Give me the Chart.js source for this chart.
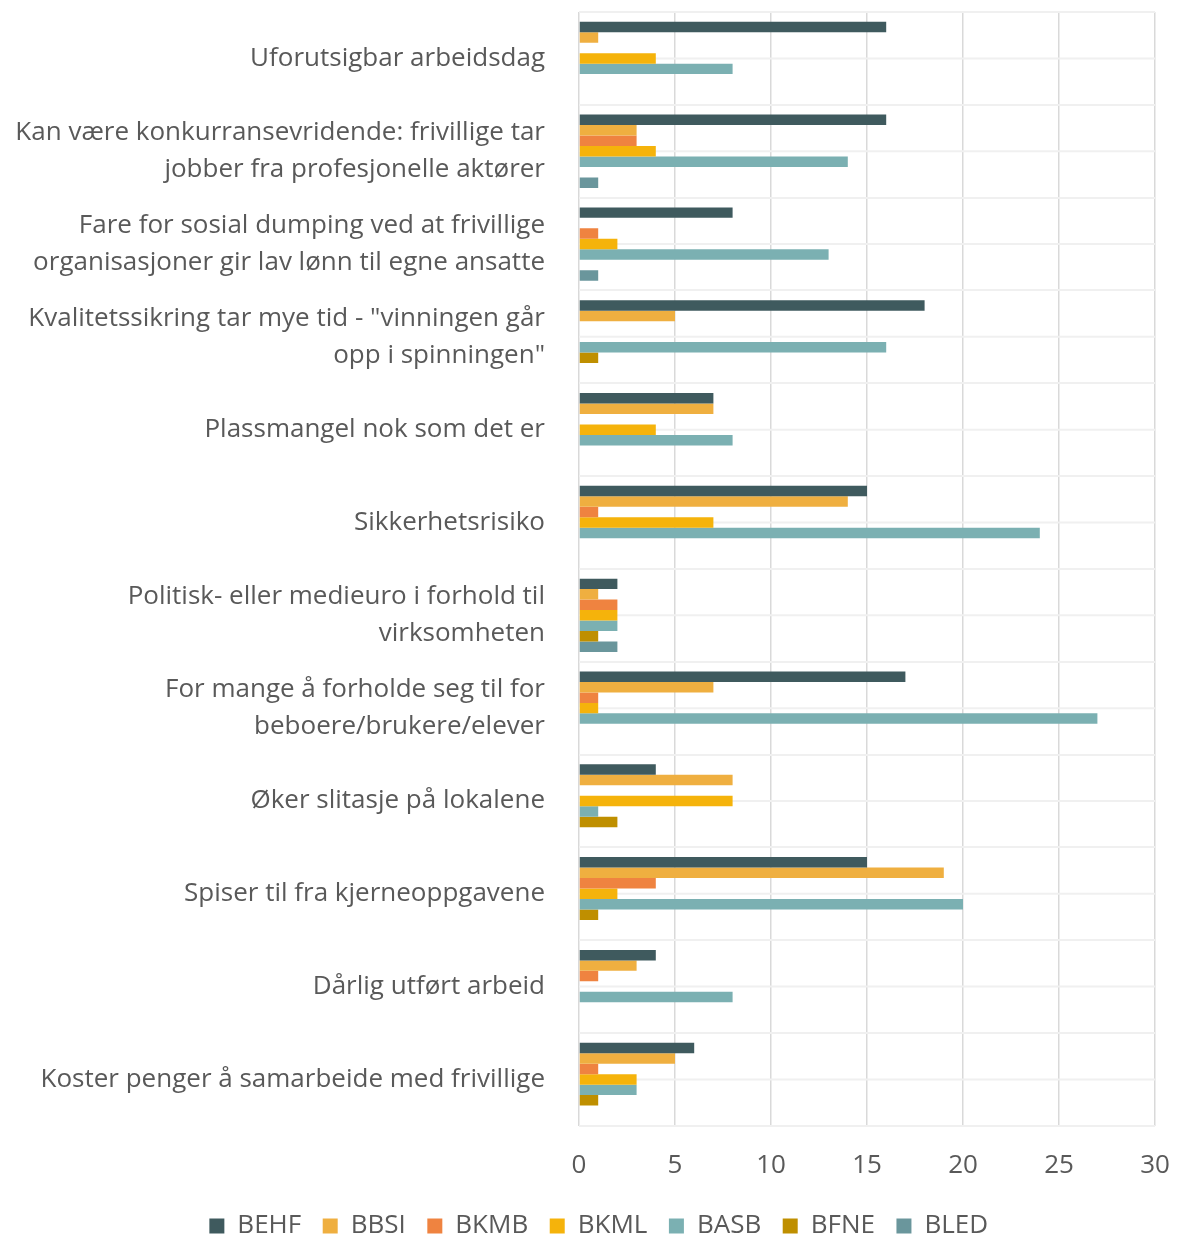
<!DOCTYPE html>
<html>
<head>
<meta charset="utf-8">
<script src="https://cdn.jsdelivr.net/npm/chart.js@4.4.1/dist/chart.umd.min.js"></script>
<style>
  html, body { margin: 0; padding: 0; background: #fff; }
  #wrap { width: 1179px; height: 1240px; }
</style>
</head>
<body>
<div id="wrap"><canvas id="chart"></canvas></div>
<script>
// categories (top to bottom), wrapped like the original
const categories = [
  ['Uforutsigbar arbeidsdag'],
  ['Kan være konkurransevridende: frivillige tar', 'jobber fra profesjonelle aktører'],
  ['Fare for sosial dumping ved at frivillige', 'organisasjoner gir lav lønn til egne ansatte'],
  ['Kvalitetssikring tar mye tid - "vinningen går', 'opp i spinningen"'],
  ['Plassmangel nok som det er'],
  ['Sikkerhetsrisiko'],
  ['Politisk- eller medieuro i forhold til', 'virksomheten'],
  ['For mange å forholde seg til for', 'beboere/brukere/elever'],
  ['Øker slitasje på lokalene'],
  ['Spiser til fra kjerneoppgavene'],
  ['Dårlig utført arbeid'],
  ['Koster penger å samarbeide med frivillige']
];

const seriesNames = ['BEHF', 'BBSI', 'BKMB', 'BKML', 'BASB', 'BFNE', 'BLED'];
const seriesColors = ['#3f5a5e', '#efaf40', '#ef8340', '#f5b30b', '#7bb0b2', '#bf8f00', '#6a969c'];

const behf = [16, 16, 8, 18, 7, 15, 2, 17, 4, 15, 4, 6];
const bbsi = [1, 3, 0, 5, 7, 14, 1, 7, 8, 19, 3, 5];
const bkmb = [0, 3, 1, 0, 0, 1, 2, 1, 0, 4, 1, 1];
const bkml = [4, 4, 2, 0, 4, 7, 2, 1, 8, 2, 0, 3];
const basb = [8, 14, 13, 16, 8, 24, 2, 27, 1, 20, 8, 3];
const bfne = [0, 0, 0, 1, 0, 0, 1, 0, 2, 1, 0, 1];
const bled = [0, 1, 1, 0, 0, 0, 2, 0, 0, 0, 0, 0];

const xTicks = [0, 5, 10, 15, 20, 25, 30];

const allValues = [behf, bbsi, bkmb, bkml, basb, bfne, bled];
const FONT = 'Open Sans';
const TEXT = '#595959';

const datasets = seriesNames.map((name, i) => ({
  label: name,
  data: allValues[i],
  backgroundColor: seriesColors[i],
  borderWidth: 0,
  categoryPercentage: 0.79,
  barPercentage: 1.0
}));

// extra light line through the middle of every category (the original has them)
const midLines = {
  id: 'midLines',
  beforeDatasetsDraw(chart) {
    const y = chart.scales.y;
    const area = chart.chartArea;
    const ctx = chart.ctx;
    ctx.save();
    ctx.strokeStyle = '#f0f0f0';
    ctx.lineWidth = 2;
    categories.forEach((c, i) => {
      const py = y.getPixelForValue(i);
      ctx.beginPath();
      ctx.moveTo(area.left, py);
      ctx.lineTo(area.right, py);
      ctx.stroke();
    });
    ctx.restore();
  }
};

// the legend in the original sits a bit right of the page centre
const legendShift = {
  id: 'legendShift',
  afterLayout(chart) {
    if (chart.legend) {
      chart.legend.left += 28;
      chart.legend.right += 28;
    }
  }
};

new Chart(document.getElementById('chart'), {
  type: 'bar',
  data: { labels: categories, datasets: datasets },
  plugins: [midLines, legendShift],
  options: {
    indexAxis: 'y',
    responsive: true,
    maintainAspectRatio: false,
    animation: false,
    layout: { padding: { top: 12, right: 24, left: 0, bottom: -9 } },
    scales: {
      x: {
        min: xTicks[0],
        max: xTicks[xTicks.length - 1],
        afterBuildTicks: (axis) => { axis.ticks = xTicks.map(v => ({ value: v })); },
        afterFit: (axis) => {
          axis.paddingLeft = 0;
          axis.paddingRight = 0;
        },
        grid: { color: '#d9d9d9', lineWidth: 1.5, drawTicks: false },
        border: { display: false },
        ticks: { color: TEXT, font: { family: FONT, size: 26 }, padding: 24 }
      },
      y: {
        afterFit: (axis) => {
          axis.width = 579;
          axis.paddingTop = 0;
          axis.paddingBottom = 0;
        },
        grid: { color: '#f0f0f0', lineWidth: 2, drawTicks: false },
        border: { display: false },
        ticks: { color: TEXT, font: { family: FONT, size: 26, lineHeight: 1.42 }, padding: 34, autoSkip: false }
      }
    },
    plugins: {
      legend: {
        position: 'bottom',
        labels: {
          color: TEXT,
          font: { family: FONT, size: 26 },
          boxWidth: 15,
          boxHeight: 15,
          padding: 8,
          generateLabels: (chart) => Chart.defaults.plugins.legend.labels.generateLabels(chart)
            .map(item => Object.assign(item, { text: item.text + '  ' }))
        }
      },
      tooltip: { enabled: false }
    }
  }
});
</script>
</body>
</html>
